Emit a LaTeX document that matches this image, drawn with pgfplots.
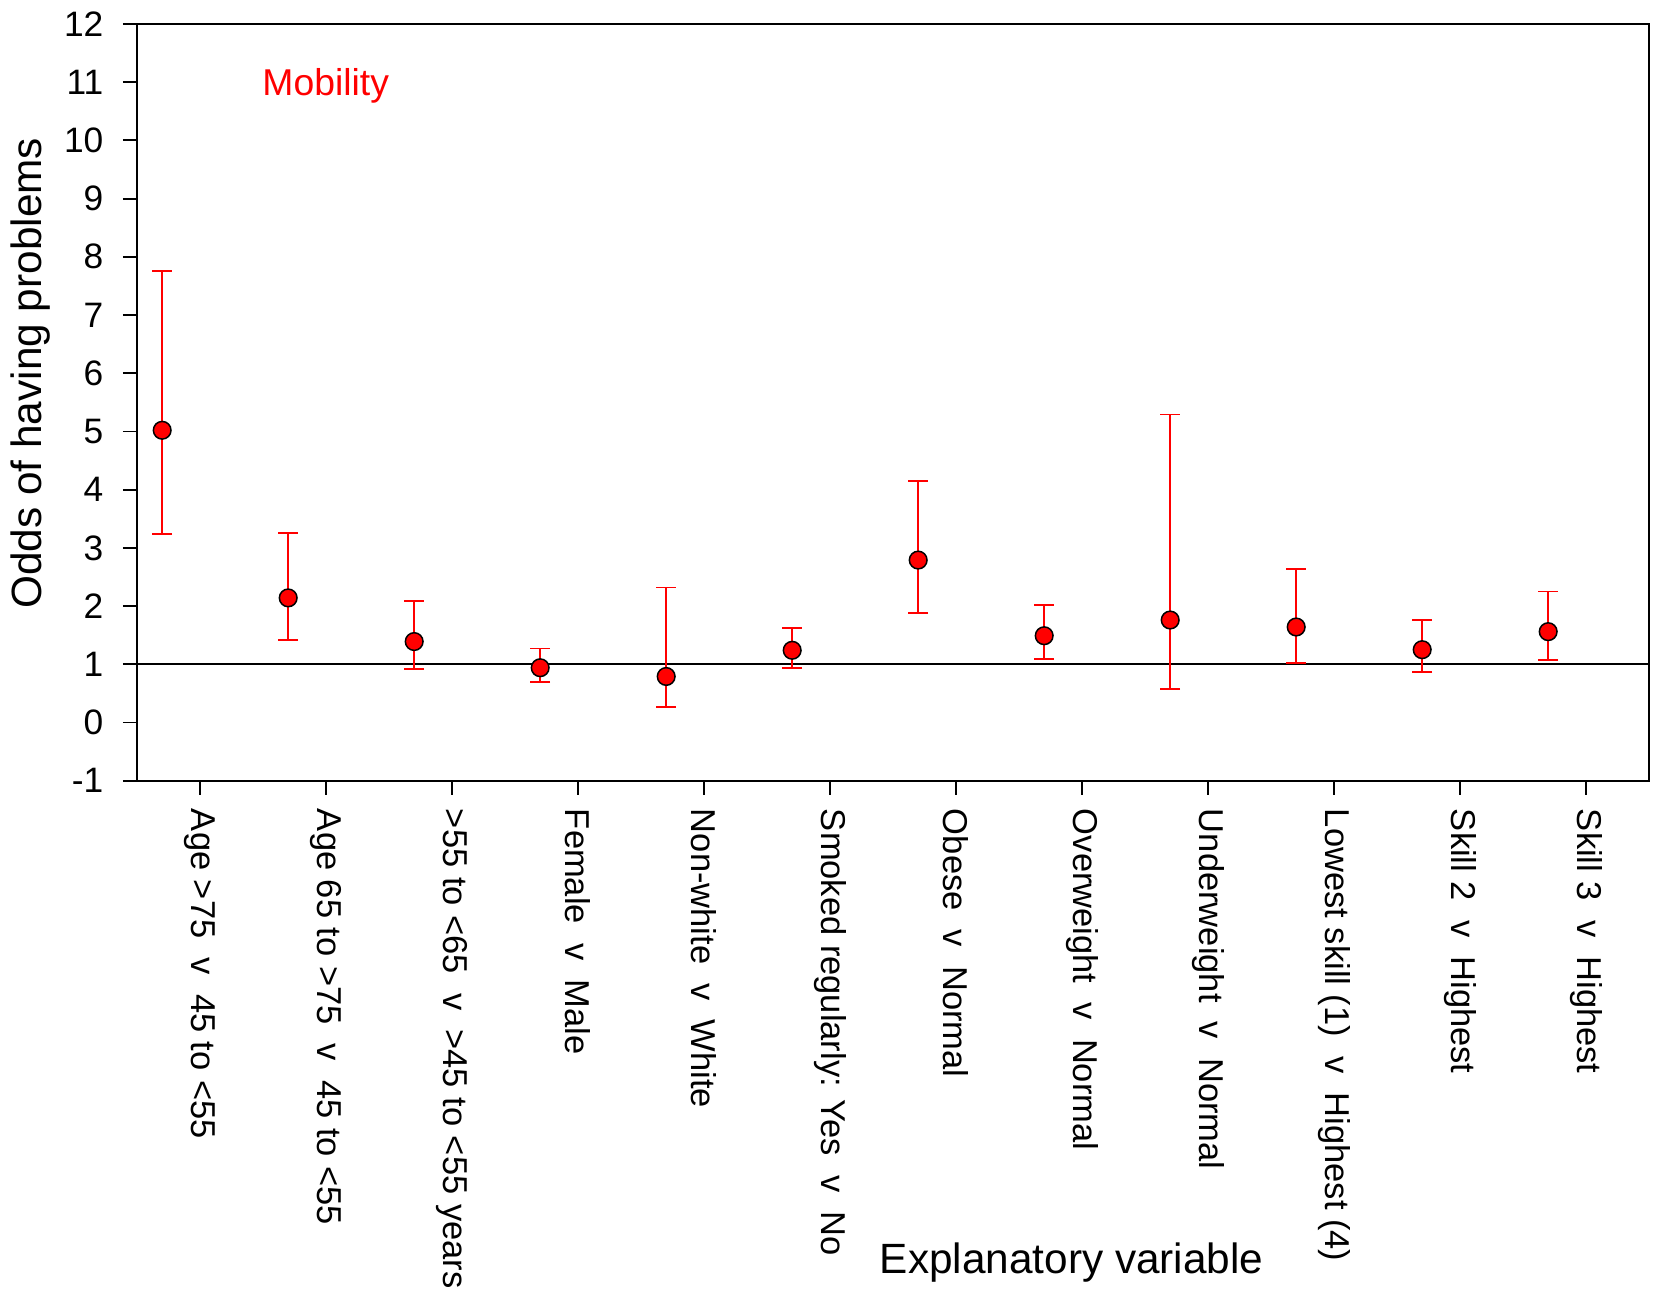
\documentclass[border=0pt]{standalone}
\usepackage{fontspec}
\setmainfont{Liberation Sans}
\usepackage{pgfplots}
\pgfplotsset{compat=1.18}
\usepackage{pgfplotstable}

% odds ratio, upper and lower confidence limits per explanatory variable
\pgfplotstableread{
x    y     hi    lo
0.2  5.02  7.76  3.24
1.2  2.14  3.26  1.42
2.2  1.39  2.09  0.92
3.2  0.94  1.27  0.69
4.2  0.79  2.32  0.27
5.2  1.24  1.62  0.94
6.2  2.79  4.15  1.88
7.2  1.49  2.02  1.09
8.2  1.76  5.29  0.58
9.2  1.64  2.64  1.02
10.2 1.25  1.76  0.86
11.2 1.56  2.25  1.07
}\oddsdata

\begin{document}
\begin{tikzpicture}
\begin{axis}[
  scale only axis,
  width=453.6pt, height=227.0pt,
  xmin=0, xmax=12, ymin=-1, ymax=12,
  clip=false,
  axis line style={black, line width=0.55pt},
  tick align=outside, tick pos=left,
  major tick length=4.2pt,
  major tick style={black, line width=0.55pt},
  minor tick num=0,
  xtick={0.5,1.5,2.5,3.5,4.5,5.5,6.5,7.5,8.5,9.5,10.5,11.5},
  xticklabels={
    {Age >75\ \ v\ \ 45 to <55},
    {Age 65 to >75\ \ v\ \ 45 to <55},
    {>55 to <65\ \ v\ \ >45 to <55 years},
    {Female\ \ v\ \ Male},
    {Non-white\ \ v\ \ White},
    {Smoked regularly: Yes\ \ v\ \ No},
    {Obese\ \ v\ \ Normal},
    {Overweight\ \ v\ \ Normal},
    {Underweight\ \ v\ \ Normal},
    {Lowest skill (1)\ \ v\ \ Highest (4)},
    {Skill 2\ \ v\ \ Highest},
    {Skill 3\ \ v\ \ Highest}},
  ytick={-1,0,...,12},
  /pgf/number format/assume math mode=true,
  xticklabel shift=4.1pt,
  yticklabel shift=5.7pt,
  xticklabel style={rotate=-90, anchor=west, inner sep=0pt,
    font=\fontsize{10.35}{12}\selectfont},
  yticklabel style={anchor=east, inner sep=0pt,
    font=\fontsize{10.6}{12}\selectfont},
]
% reference line at odds = 1
\addplot[black, line width=0.55pt] coordinates {(0,1) (12,1)};

% confidence intervals
\addplot[only marks, mark=none,
  error bars/.cd, y dir=both, y explicit,
  error bar style={red, line width=0.55pt},
  error mark options={rotate=90, red, mark size=3pt, line width=0.55pt}]
  table[x=x, y=y,
        y error plus expr=\thisrow{hi}-\thisrow{y},
        y error minus expr=\thisrow{y}-\thisrow{lo}] {\oddsdata};

% point estimates
\addplot[only marks, mark=*, mark size=2.65pt,
  mark options={fill=red, draw=black, line width=0.45pt}]
  table[x=x, y=y] {\oddsdata};

\node[red, anchor=base west, inner sep=0pt, font=\fontsize{11.2}{13}\selectfont]
  at (axis cs:0.99,10.78) {Mobility};
\node[anchor=base west, inner sep=0pt, font=\fontsize{12.7}{15}\selectfont]
  at (axis cs:5.89,-9.46) {Explanatory variable};
\node[rotate=90, anchor=north, inner sep=0pt, font=\fontsize{12.7}{15}\selectfont]
  at (axis cs:-1.01,6.0) {Odds of having problems};
\end{axis}
\pgfresetboundingbox
\path[use as bounding box]
  ([xshift=-41.1pt, yshift=-153.1pt]current axis.south west)
  rectangle ++(496.2pt, 387.3pt);
\end{tikzpicture}
\end{document}
